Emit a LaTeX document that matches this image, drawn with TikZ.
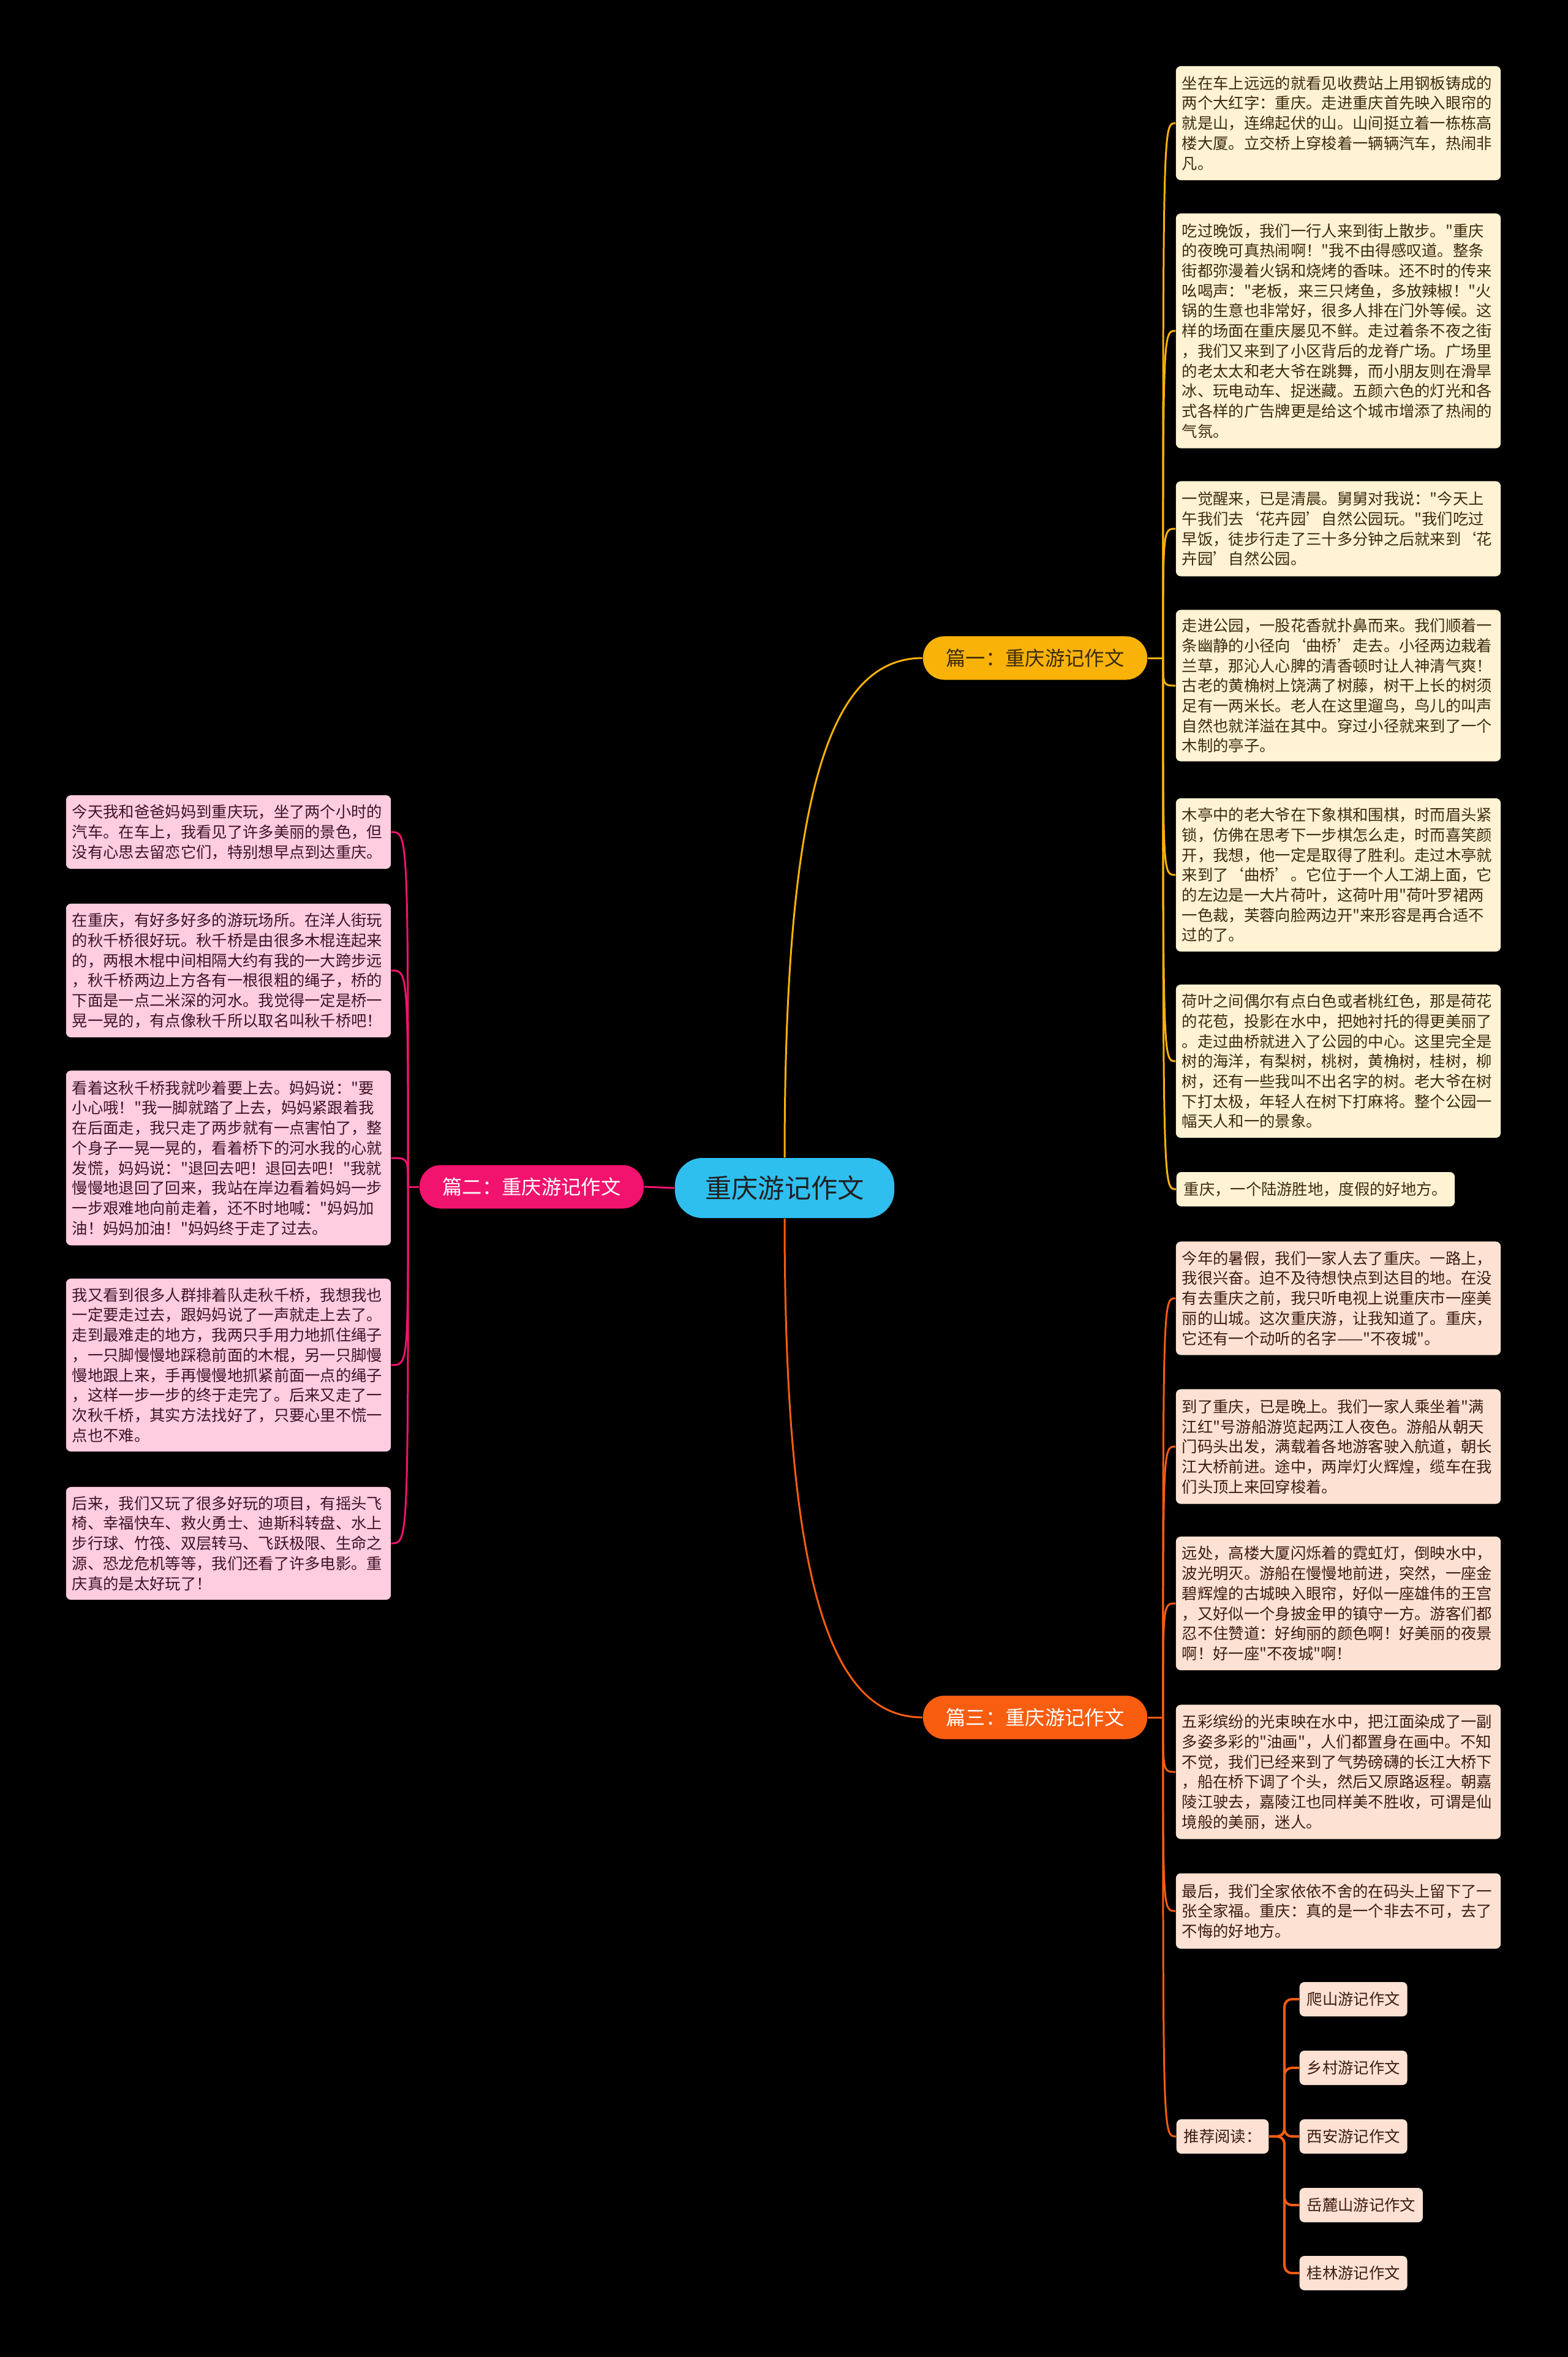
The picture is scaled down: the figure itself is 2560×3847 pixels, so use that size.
\documentclass[tikz,border=0pt]{standalone}
\usepackage{fontspec}
\usepackage{xcolor}
\usepackage{tikz}
\usetikzlibrary{positioning, calc}
\newfontfamily\cjk{Noto Sans CJK SC}
\definecolor{topicblue}{HTML}{2EBFEF}
\definecolor{topictxt}{HTML}{202020}
\definecolor{yel}{HTML}{F9B208}
\definecolor{pnk}{HTML}{F2136E}
\definecolor{orn}{HTML}{F85D10}
\definecolor{yelbg}{HTML}{FFF3D3}
\definecolor{yeltxt}{HTML}{3C2C0C}
\definecolor{pnkbg}{HTML}{FFCCE0}
\definecolor{pnktxt}{HTML}{3E1426}
\definecolor{ornbg}{HTML}{FDE2D3}
\definecolor{orntxt}{HTML}{3E1C10}

\begin{document}
\begin{tikzpicture}[
    x=0.01cm, y=-0.01cm,
    topic/.style={fill=topicblue, text=topictxt, rounded corners=0.45cm, minimum width=3.58cm, minimum height=0.98cm, inner sep=0pt, font=\cjk\fontsize{12.3}{14}\selectfont},
    branch/.style={fill=#1, rounded corners=0.35cm, minimum width=3.66cm, minimum height=0.71cm, inner sep=0pt, font=\cjk\fontsize{9.2}{11}\selectfont},
    leaf/.style={fill=#1bg, text=#1txt, rounded corners=0.08cm, text width=5.1cm, align=left, inner xsep=0.1cm, inner ysep=0.05cm, font=\cjk\fontsize{7.2}{9.3}\selectfont},
    tag/.style={fill=#1bg, text=#1txt, rounded corners=0.08cm, inner xsep=0.12cm, inner ysep=0pt, minimum height=0.56cm, font=\cjk\fontsize{7.2}{9.3}\selectfont},
    link/.style={draw=#1, line width=0.85pt},
  ]
  \fill[black] (0,0) rectangle (2560,3847);
  \useasboundingbox (0,0) rectangle (2560,3847);

  \node[topic] (root) at (1281,1939) {重庆游记作文};
  \node[branch=yel, text=yeltxt] (b1) at (1690,1074) {篇一：重庆游记作文};
  \node[branch=pnk, text=white] (b2) at (868,1937) {篇二：重庆游记作文};
  \node[branch=orn, text=white] (b3) at (1690,2803) {篇三：重庆游记作文};

  % branch one
  \node[leaf=yel, minimum height=1.86cm] (y1) at (2185,201) {坐在车上远远的就看见收费站上用钢板铸成的\\两个大红字：重庆。走进重庆首先映入眼帘的\\就是山，连绵起伏的山。山间挺立着一栋栋高\\楼大厦。立交桥上穿梭着一辆辆汽车，热闹非\\凡。};
  \node[leaf=yel, minimum height=3.83cm] (y2) at (2185,540) {吃过晚饭，我们一行人来到街上散步。"重庆\\的夜晚可真热闹啊！"我不由得感叹道。整条\\街都弥漫着火锅和烧烤的香味。还不时的传来\\吆喝声："老板，来三只烤鱼，多放辣椒！"火\\锅的生意也非常好，很多人排在门外等候。这\\样的场面在重庆屡见不鲜。走过着条不夜之街\\，我们又来到了小区背后的龙脊广场。广场里\\的老太太和老大爷在跳舞，而小朋友则在滑旱\\冰、玩电动车、捉迷藏。五颜六色的灯光和各\\式各样的广告牌更是给这个城市增添了热闹的\\气氛。};
  \node[leaf=yel, minimum height=1.55cm] (y3) at (2185,863) {一觉醒来，已是清晨。舅舅对我说："今天上\\午我们去‘花卉园’自然公园玩。"我们吃过\\早饭，徒步行走了三十多分钟之后就来到‘花\\卉园’自然公园。};
  \node[leaf=yel, minimum height=2.47cm] (y4) at (2185,1119) {走进公园，一股花香就扑鼻而来。我们顺着一\\条幽静的小径向‘曲桥’走去。小径两边栽着\\兰草，那沁人心脾的清香顿时让人神清气爽！\\古老的黄桷树上饶满了树藤，树干上长的树须\\足有一两米长。老人在这里遛鸟，鸟儿的叫声\\自然也就洋溢在其中。穿过小径就来到了一个\\木制的亭子。};
  \node[leaf=yel, minimum height=2.5cm] (y5) at (2185,1428) {木亭中的老大爷在下象棋和围棋，时而眉头紧\\锁，仿佛在思考下一步棋怎么走，时而喜笑颜\\开，我想，他一定是取得了胜利。走过木亭就\\来到了‘曲桥’。它位于一个人工湖上面，它\\的左边是一大片荷叶，这荷叶用"荷叶罗裙两\\一色裁，芙蓉向脸两边开"来形容是再合适不\\过的了。};
  \node[leaf=yel, minimum height=2.5cm] (y6) at (2185,1732) {荷叶之间偶尔有点白色或者桃红色，那是荷花\\的花苞，投影在水中，把她衬托的得更美丽了\\。走过曲桥就进入了公园的中心。这里完全是\\树的海洋，有梨树，桃树，黄桷树，桂树，柳\\树，还有一些我叫不出名字的树。老大爷在树\\下打太极，年轻人在树下打麻将。整个公园一\\幅天人和一的景象。};
  \node[tag=yel, anchor=west] (y7) at (1920,1941) {重庆，一个陆游胜地，度假的好地方。};

  % branch two
  \node[leaf=pnk, minimum height=1.2cm] (l1) at (373,1358) {今天我和爸爸妈妈到重庆玩，坐了两个小时的\\汽车。在车上，我看见了许多美丽的景色，但\\没有心思去留恋它们，特别想早点到达重庆。};
  \node[leaf=pnk, minimum height=2.18cm] (l2) at (373,1584) {在重庆，有好多好多的游玩场所。在洋人街玩\\的秋千桥很好玩。秋千桥是由很多木棍连起来\\的，两根木棍中间相隔大约有我的一大跨步远\\，秋千桥两边上方各有一根很粗的绳子，桥的\\下面是一点二米深的河水。我觉得一定是桥一\\晃一晃的，有点像秋千所以取名叫秋千桥吧！};
  \node[leaf=pnk, minimum height=2.85cm] (l3) at (373,1890) {看着这秋千桥我就吵着要上去。妈妈说："要\\小心哦！"我一脚就踏了上去，妈妈紧跟着我\\在后面走，我只走了两步就有一点害怕了，整\\个身子一晃一晃的，看着桥下的河水我的心就\\发慌，妈妈说："退回去吧！退回去吧！"我就\\慢慢地退回了回来，我站在岸边看着妈妈一步\\一步艰难地向前走着，还不时地喊："妈妈加\\油！妈妈加油！"妈妈终于走了过去。};
  \node[leaf=pnk, minimum height=2.82cm] (l4) at (373,2228) {我又看到很多人群排着队走秋千桥，我想我也\\一定要走过去，跟妈妈说了一声就走上去了。\\走到最难走的地方，我两只手用力地抓住绳子\\，一只脚慢慢地踩稳前面的木棍，另一只脚慢\\慢地跟上来，手再慢慢地抓紧前面一点的绳子\\，这样一步一步的终于走完了。后来又走了一\\次秋千桥，其实方法找好了，只要心里不慌一\\点也不难。};
  \node[leaf=pnk, minimum height=1.84cm] (l5) at (373,2519) {后来，我们又玩了很多好玩的项目，有摇头飞\\椅、幸福快车、救火勇士、迪斯科转盘、水上\\步行球、竹筏、双层转马、飞跃极限、生命之\\源、恐龙危机等等，我们还看了许多电影。重\\庆真的是太好玩了！};

  % branch three
  \node[leaf=orn, minimum height=1.85cm] (o1) at (2185,2119) {今年的暑假，我们一家人去了重庆。一路上，\\我很兴奋。迫不及待想快点到达目的地。在没\\有去重庆之前，我只听电视上说重庆市一座美\\丽的山城。这次重庆游，让我知道了。重庆，\\它还有一个动听的名字——"不夜城"。};
  \node[leaf=orn, minimum height=1.87cm] (o2) at (2185,2361) {到了重庆，已是晚上。我们一家人乘坐着"满\\江红"号游船游览起两江人夜色。游船从朝天\\门码头出发，满载着各地游客驶入航道，朝长\\江大桥前进。途中，两岸灯火辉煌，缆车在我\\们头顶上来回穿梭着。};
  \node[leaf=orn, minimum height=2.18cm] (o3) at (2185,2617) {远处，高楼大厦闪烁着的霓虹灯，倒映水中，\\波光明灭。游船在慢慢地前进，突然，一座金\\碧辉煌的古城映入眼帘，好似一座雄伟的王宫\\，又好似一个身披金甲的镇守一方。游客们都\\忍不住赞道：好绚丽的颜色啊！好美丽的夜景\\啊！好一座"不夜城"啊！};
  \node[leaf=orn, minimum height=2.19cm] (o4) at (2185,2892) {五彩缤纷的光束映在水中，把江面染成了一副\\多姿多彩的"油画"，人们都置身在画中。不知\\不觉，我们已经来到了气势磅礴的长江大桥下\\，船在桥下调了个头，然后又原路返程。朝嘉\\陵江驶去，嘉陵江也同样美不胜收，可谓是仙\\境般的美丽，迷人。};
  \node[leaf=orn, minimum height=1.23cm] (o5) at (2185,3119) {最后，我们全家依依不舍的在码头上留下了一\\张全家福。重庆：真的是一个非去不可，去了\\不悔的好地方。};
  \node[tag=orn, anchor=west] (tj) at (1920,3487) {推荐阅读：};
  \node[tag=orn, anchor=west] (r1) at (2121,3263) {爬山游记作文};
  \node[tag=orn, anchor=west] (r2) at (2121,3375) {乡村游记作文};
  \node[tag=orn, anchor=west] (r3) at (2121,3487) {西安游记作文};
  \node[tag=orn, anchor=west] (r4) at (2121,3599) {岳麓山游记作文};
  \node[tag=orn, anchor=west] (r5) at (2121,3710) {桂林游记作文};

  % connectors
  \draw[link=yel] (root.north) .. controls +(0,-600) and +(-150,0) .. (b1.west);
  \draw[link=orn] (root.south) .. controls +(0,600) and +(-150,0) .. (b3.west);
  \draw[link=pnk] (root.west) -- (b2.east);

  \coordinate (s1) at ([xshift=0.25cm]b1.east);
  \coordinate (s2) at ([xshift=-0.18cm]b2.west);
  \coordinate (s3) at ([xshift=0.25cm]b3.east);
  \coordinate (hub) at ([xshift=0.25cm]tj.east);

  \draw[link=yel] (b1.east) -- (s1);
  \foreach \n in {y1,y2,y3,y4,y5,y6,y7}
    \draw[link=yel] (s1) .. controls (s1 |- \n.west) .. (\n.west);
  \draw[link=pnk] (b2.west) -- (s2);
  \foreach \n in {l1,l2,l3,l4,l5}
    \draw[link=pnk] (s2) .. controls (s2 |- \n.east) .. (\n.east);
  \draw[link=orn] (b3.east) -- (s3);
  \foreach \n in {o1,o2,o3,o4,o5,tj}
    \draw[link=orn] (s3) .. controls (s3 |- \n.west) .. (\n.west);
  \foreach \n in {r1,r2,r3,r4,r5}
    \draw[link=orn, line width=1.1pt, rounded corners=0.12cm] (tj.east) -- (hub) |- (\n.west);
\end{tikzpicture}
\end{document}
